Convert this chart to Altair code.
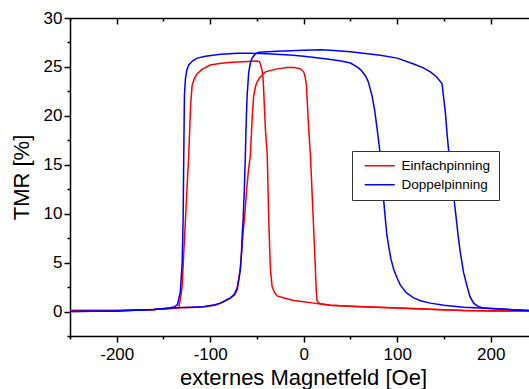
import altair as alt
import pandas as pd

# ---- data ----
red_a_x = [-250, -200, -160, -142, -136, -133.7, -132, -130, -128.3, -126.5, -123, -121, -119.4, -117, -114,
           -108, -100, -90, -80, -71, -60, -50, -47.5, -46.3, -44.5, -43.4, -41, -39, -37.4, -35.6, -33.8,
           -31, -28.5, -20, -10.7, 0, 10.7, 20, 28.5, 50, 100, 140, 171, 200, 241]
red_a_y = [0.1, 0.1, 0.22, 0.3, 0.33, 0.38, 1.2, 2.6, 6.0, 9.4, 16.0, 21.0, 23.1, 23.8, 24.3,
           24.8, 25.2, 25.35, 25.45, 25.5, 25.55, 25.6, 25.55, 25.3, 24.6, 23.8, 18.7, 16.0, 9.4, 4.3, 2.55,
           1.9, 1.6, 1.35, 1.12, 1.0, 0.86, 0.75, 0.65, 0.55, 0.35, 0.2, 0.1, 0.05, 0.05]
red_b_x = [-250, -200, -160, -133.7, -120, -107, -95, -89, -84, -78.4, -74, -71.2, -68, -66, -64.5, -63.4,
           -61, -59, -57, -55, -53.5, -51, -48, -41, -28.5, -17.8, -10, -3.5, 0, 1.5, 2.9, 5.3, 7.2,
           10.2, 12.5, 13.5, 14.3, 16, 17.9, 28.5, 50, 100, 171, 241]
red_b_y = [0.1, 0.1, 0.22, 0.38, 0.42, 0.48, 0.65, 0.86, 1.1, 1.37, 1.7, 2.2, 4.3, 6.5, 8.5, 9.4,
           12.5, 14.5, 16.0, 20.0, 22.1, 23.2, 23.8, 24.5, 24.8, 24.95, 24.95, 24.8, 24.5, 24.0, 23.1, 18.7, 16.0,
           9.4, 4.3, 2.0, 1.1, 0.9, 0.8, 0.65, 0.55, 0.35, 0.1, 0.05]
blue_a_x = [-250, -200, -160, -145, -138, -135, -132, -130, -129, -128.3, -127.6, -126.5, -125, -123, -119,
            -114, -105, -89, -70, -57, -40, -20, -11, 0, 25, 40, 50, 57, 61, 66, 69, 73, 76, 78.5, 81.3,
            84, 87.4, 89, 91, 93.5, 96.3, 100, 103.4, 110, 117.6, 125, 135.5, 150, 171, 200, 241]
blue_a_y = [0.0, 0.05, 0.2, 0.35, 0.5, 0.7, 2.0, 5.0, 9.4, 16.0, 22.1, 23.8, 24.7, 25.2, 25.6,
            25.9, 26.1, 26.3, 26.4, 26.4, 26.35, 26.25, 26.2, 26.1, 25.8, 25.6, 25.4, 25.0, 24.7, 24.1, 23.5, 22.1, 20.5, 18.7, 16.5,
            13.0, 9.4, 7.8, 6.6, 5.3, 4.3, 3.4, 2.7, 1.9, 1.4, 1.1, 0.86, 0.65, 0.45, 0.3, 0.1]
blue_b_x = [-250, -200, -160, -135, -120, -107, -95, -89, -84, -78.4, -74, -71.2, -69, -67.7, -66.6, -65.9,
            -64.8, -63.5, -62.4, -61.5, -60.5, -59.5, -58.8, -57, -55.2, -52, -48, -28.5, 0, 17.9, 28.5, 50,
            82, 100, 117.6, 128, 135.5, 142, 148, 149.5, 151.5, 153.5, 155, 159, 163.3, 165.5, 167.6, 171,
            174.7, 178, 181.8, 186, 192.5, 210, 241]
blue_b_y = [0.0, 0.05, 0.2, 0.4, 0.45, 0.5, 0.7, 0.86, 1.1, 1.4, 1.8, 2.4, 3.5, 4.3, 6.0, 7.65,
            9.4, 12.5, 16.0, 19.5, 22.1, 23.5, 24.5, 25.4, 25.9, 26.3, 26.5, 26.6, 26.7, 26.75, 26.7, 26.55,
            26.2, 25.9, 25.3, 24.9, 24.5, 24.0, 23.3, 22.0, 20.4, 18.0, 16.5, 13.0, 9.4, 7.5, 6.0, 4.0,
            2.6, 1.5, 0.86, 0.55, 0.35, 0.25, 0.1]

series_names = ["Einfachpinning", "Doppelpinning"]
series_colors = ["#ff0000", "#0000ff"]
x_major = [-200, -100, 0, 100, 200]
x_minor = [-250, -150, -50, 50, 150]
x_ticks = sorted(x_major + x_minor)
y_ticks = [-2.5, 0, 2.5, 5, 7.5, 10, 12.5, 15, 17.5, 20, 22.5, 25, 27.5, 30]
x_range = [-250, 241]
y_range = [-2.5, 30]

PLOT_W, PLOT_H = 459, 318

rows = []
for name, branch, xs, ys in [
    ("Einfachpinning", "ra", red_a_x, red_a_y),
    ("Einfachpinning", "rb", red_b_x, red_b_y),
    ("Doppelpinning", "ba", blue_a_x, blue_a_y),
    ("Doppelpinning", "bb", blue_b_x, blue_b_y),
]:
    for i, (fx, ty) in enumerate(zip(xs, ys)):
        rows.append({"field": fx, "tmr": ty, "series": name, "branch": branch, "order": i})
df = pd.DataFrame(rows)
range_df = pd.DataFrame({"xr": x_range})

FONT = "Liberation Sans"
AX = dict(domainColor="black", tickColor="black", labelColor="black", titleColor="black",
          domainWidth=1.5, tickWidth=1.5, grid=False)
x_scale = alt.Scale(domain=x_range, nice=False, zero=False)
y_scale = alt.Scale(domain=y_range, nice=False, zero=False)

x_tick_size = {"condition": {"test": "datum.value % 100 === 0", "value": 6}, "value": 3}
y_tick_size = {"condition": {"test": "datum.value % 5 === 0", "value": 6}, "value": 3}

x_axis = alt.Axis(orient="bottom", values=x_ticks, tickSize=x_tick_size,
                  labelExpr="datum.value % 100 === 0 ? '' + datum.value : ''",
                  labelFontSize=17, labelPadding=4, labelFont=FONT,
                  title="externes Magnetfeld [Oe]", titleFontSize=22, titleFont=FONT,
                  titleFontWeight="normal", titleX=233, titleY=31.5, titleAlign="center",
                  titleBaseline="top", **AX)
y_axis = alt.Axis(orient="left", values=y_ticks, tickSize=y_tick_size,
                  labelExpr="datum.value % 5 === 0 ? '' + datum.value : ''",
                  labelFontSize=17, labelPadding=2, labelFont=FONT,
                  title="TMR [%]", titleFontSize=22, titleFont=FONT, titleFontWeight="normal",
                  titleX=-37, titleY=159, titleAngle=270, titleAlign="center",
                  titleBaseline="bottom", **AX)
# mirrored top axes: frame line with major ticks, and minor ticks, both pointing inward
top_major_axis = alt.Axis(orient="top", values=x_major, labels=False, title=None, grid=False,
                          tickSize={"expr": "-6"}, tickColor="black", tickWidth=1.5,
                          domain=True, domainColor="black", domainWidth=1.5)
top_minor_axis = alt.Axis(orient="top", values=x_minor, labels=False, title=None, grid=False,
                          tickSize={"expr": "-3"}, tickColor="black", tickWidth=1.5,
                          domain=False)

lines = alt.Chart(df).mark_line(strokeWidth=1.5).encode(
    x=alt.X("field:Q", scale=x_scale, axis=x_axis),
    y=alt.Y("tmr:Q", scale=y_scale, axis=y_axis),
    color=alt.Color("series:N",
                    scale=alt.Scale(domain=series_names, range=series_colors),
                    legend=alt.Legend(title=None, orient="none", legendX=282, legendY=133,
                                      strokeColor="#333333", fillColor="white", padding=8,
                                      symbolType="M-0.4,0H5.6", symbolSize=100, symbolStrokeWidth=1.5,
                                      labelFontSize=13.5, labelFont=FONT, labelColor="black",
                                      rowPadding=4, labelOffset=28)),
    detail="branch:N",
    order="order:Q",
)

top_major = alt.Chart(range_df).mark_point(opacity=0).encode(
    x=alt.X("xr:Q", axis=top_major_axis))
top_minor = alt.Chart(range_df).mark_point(opacity=0).encode(
    x=alt.X("xr:Q", axis=top_minor_axis))

chart = alt.layer(lines, top_major, top_minor).resolve_axis(x="independent").properties(
    width=PLOT_W, height=PLOT_H,
    autosize=alt.AutoSizeParams(type="none"),
    padding={"left": 70, "top": 18, "right": 0, "bottom": 53},
).configure_view(stroke=None).configure(background="white")

chart.save("out.html", embed_options={"renderer": "svg", "actions": False})
